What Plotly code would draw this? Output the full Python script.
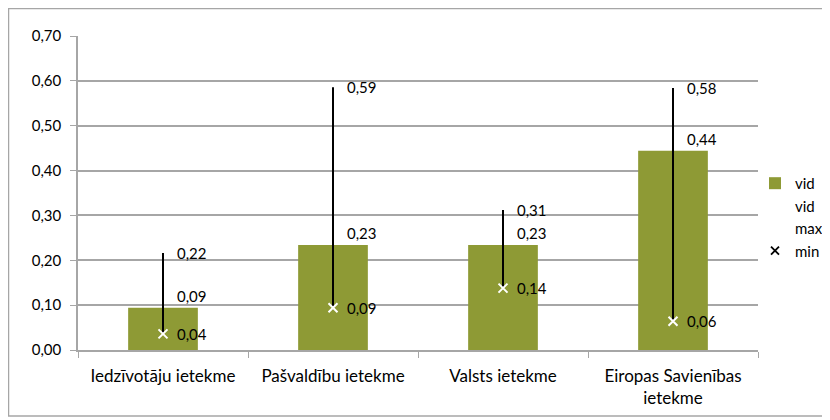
import plotly.graph_objects as go

categories = ["Iedzīvotāju ietekme", "Pašvaldību ietekme", "Valsts ietekme",
              "Eiropas Savienības<br>ietekme"]
vid = [0.094, 0.234, 0.234, 0.444]
vmax = [0.216, 0.586, 0.312, 0.584]
vmin = [0.036, 0.094, 0.138, 0.064]

GREEN = "#8E9A35"
GRID = "#A6A6A6"
FONT = "Lato"


def fmt(v):
    return f"{v:.2f}".replace(".", ",")


fig = go.Figure()

fig.add_trace(go.Bar(x=categories, y=vid, name="vid", marker_color=GREEN,
                     marker_line_width=0))

# legend-only series: the line "vid" and "max" series draw no marks
fig.add_trace(go.Scatter(x=[None], y=[None], mode="lines", name="vid",
                         line=dict(color="rgba(0,0,0,0)")))
fig.add_trace(go.Scatter(x=[None], y=[None], mode="lines", name="max",
                         line=dict(color="rgba(0,0,0,0)")))

# high-low lines
hx, hy = [], []
for c, lo, hi in zip(categories, vmin, vmax):
    hx += [c, c, None]
    hy += [lo, hi, None]
fig.add_trace(go.Scatter(x=hx, y=hy, mode="lines", showlegend=False,
                         line=dict(color="black", width=2), hoverinfo="skip"))

fig.add_trace(go.Scatter(x=categories, y=vmin, mode="markers", showlegend=False,
                         marker=dict(symbol="x-thin", size=9,
                                     line=dict(color="white", width=2))))
fig.add_trace(go.Scatter(x=[None], y=[None], mode="markers", name="min",
                         marker=dict(symbol="x-thin", size=8,
                                     line=dict(color="black", width=1.8))))

for c, a, hi, lo in zip(categories, vid, vmax, vmin):
    fig.add_annotation(x=c, y=a, text=fmt(a), showarrow=False, xanchor="left",
                       yanchor="bottom", xshift=12, yshift=1)
    fig.add_annotation(x=c, y=hi, text=fmt(hi), showarrow=False, xanchor="left",
                       yanchor="middle", xshift=12)
    fig.add_annotation(x=c, y=lo, text=fmt(lo), showarrow=False, xanchor="left",
                       yanchor="middle", xshift=12)

# page body has an 8px margin, so figure coords = page coords - 8
L, T = 70, 28
PW, PH = 680, 314
R, B = 830 - L - PW, 420 - T - PH
fig.add_shape(type="rect", xref="paper", yref="paper",
              x0=(0.5 - L) / PW, x1=(817 - L) / PW,
              y0=-(408 - (T + PH)) / PH, y1=1 + (T - 0.5) / PH,
              line=dict(color=GRID, width=1.5), fillcolor="rgba(0,0,0,0)")

fig.update_layout(
    width=830, height=420,
    margin=dict(l=L, r=R, t=T, b=B, autoexpand=False),
    paper_bgcolor="white", plot_bgcolor="white",
    separators=", ",
    font=dict(family=FONT, size=15, color="black"),
    bargap=0.59,
    showlegend=True,
    legend=dict(x=0.9956, xanchor="left", y=0.583, yanchor="top",
                font=dict(size=15), tracegroupgap=0, itemwidth=30,
                bgcolor="rgba(0,0,0,0)"),
    xaxis=dict(showline=True, linecolor=GRID, linewidth=1.5, ticks="outside",
               tickson="boundaries", tickcolor=GRID, ticklen=6,
               showgrid=False, tickfont=dict(size=17), automargin=False,
               ticklabelstandoff=10),
    yaxis=dict(range=[0, 0.7], dtick=0.1, tickformat=".2f", showline=True,
               linecolor=GRID, linewidth=1.5, ticks="outside", tickcolor=GRID,
               ticklen=6, gridcolor=GRID, gridwidth=1.5, zeroline=False,
               ticklabelstandoff=6, automargin=False),
)

fig.write_html("out.html")
